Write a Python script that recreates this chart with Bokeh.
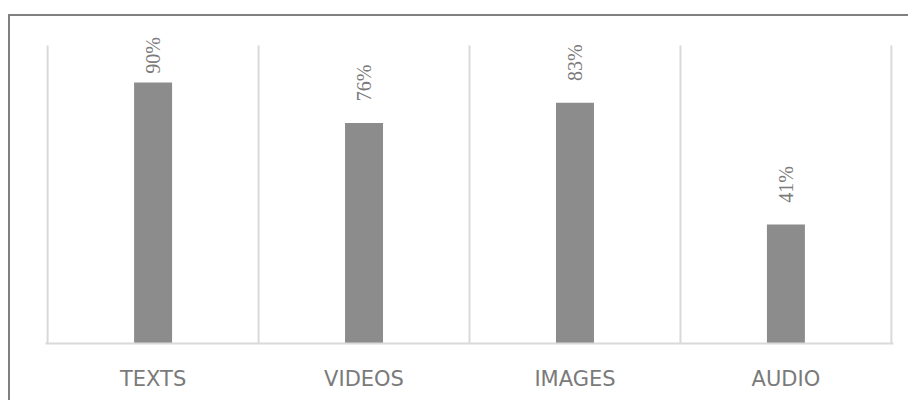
import numpy as np
from bokeh.plotting import figure
from bokeh.models import ColumnDataSource, Range1d, FixedTicker, LabelSet
from bokeh.embed import file_html
from bokeh.resources import INLINE

# ---- data ----
categories = ["TEXTS", "VIDEOS", "IMAGES", "AUDIO"]
values = [90, 76, 83, 41]
value_labels = ["90%", "76%", "83%", "41%"]

n = len(categories)
pos = np.arange(n)
label_y = [min(v + 7.5, 93.0) for v in values]
grid_top = 102.8  # top of the plot area (value axis max)

src = ColumnDataSource(dict(x=pos, top=values, txt=value_labels, ly=label_y))
bounds = np.arange(n + 1) - 0.5
sep = ColumnDataSource(dict(x=bounds, y0=np.zeros(n + 1), y1=np.full(n + 1, grid_top)))

p = figure(width=900, height=386, output_backend="svg", toolbar_location=None,
           x_range=Range1d(-0.51, n - 0.49), y_range=Range1d(0, 112.76),
           min_border_left=35, min_border_right=17, min_border_top=0, min_border_bottom=59)

p.styles = {"border-top": "2px solid #808080", "border-left": "2px solid #808080",
            "margin-top": "14px", "margin-left": "8px"}

# category separators
p.segment(x0="x", x1="x", y0="y0", y1="y1", source=sep,
          line_color="#d9d9d9", line_width=2)

p.vbar(x="x", top="top", bottom=0, width=0.18, source=src,
       fill_color="#8c8c8c", line_color=None)

labels = LabelSet(x="x", y="ly", text="txt", source=src, angle=np.pi / 2,
                  text_align="left", text_baseline="middle",
                  text_font="DejaVu Sans", text_font_size="20px", text_color="#7a7a7a")
p.add_layout(labels)

p.yaxis.visible = False
p.ygrid.grid_line_color = None
p.xgrid.grid_line_color = None

p.xaxis.ticker = FixedTicker(ticks=list(pos))
p.xaxis.major_label_overrides = {int(i): c for i, c in zip(pos, categories)}
p.xaxis.major_label_text_font = "DejaVu Sans"
p.xaxis.major_label_text_font_size = "21px"
p.xaxis.major_label_text_color = "#7a7a7a"
p.xaxis.major_label_standoff = 17
p.xaxis.major_tick_line_color = None
p.xaxis.minor_tick_line_color = None
p.xaxis.axis_line_color = "#d9d9d9"
p.xaxis.axis_line_width = 2

p.outline_line_color = None
p.background_fill_color = "white"
p.border_fill_color = "white"

open("out.html", "w").write(file_html(p, INLINE))
